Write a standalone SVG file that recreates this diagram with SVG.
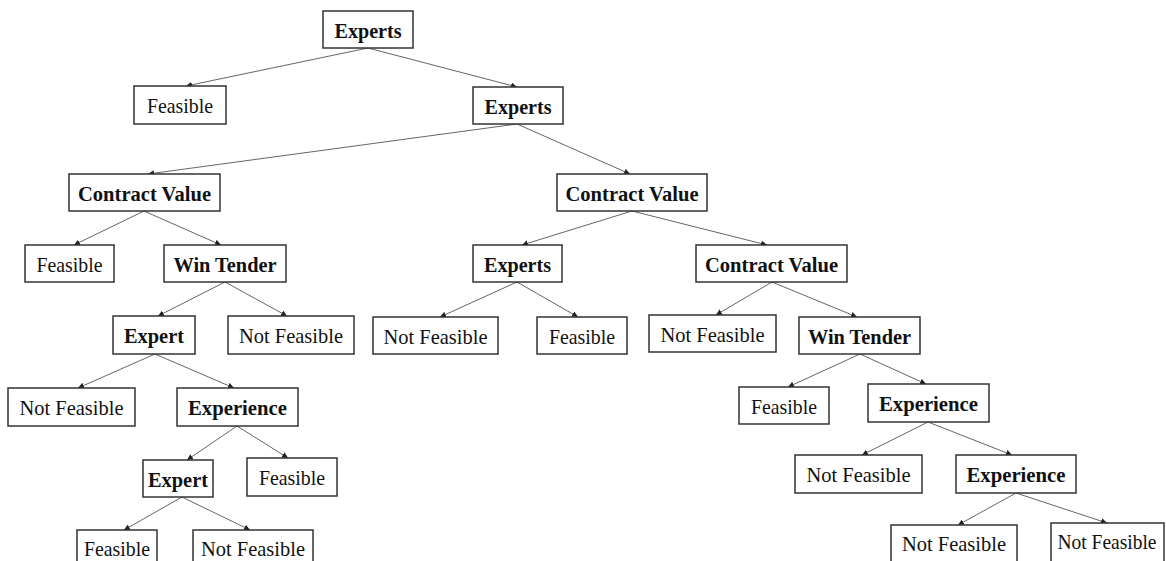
<svg xmlns="http://www.w3.org/2000/svg" width="1166" height="561" viewBox="0 0 1166 561">
<style>
.box{fill:#fff;stroke:#333;stroke-width:1.5}
.t{font-family:"Liberation Serif","Times New Roman",serif;font-size:22px;fill:#111;text-anchor:middle}
.b{font-weight:bold}
.c{stroke:#666;stroke-width:1;fill:none;marker-end:url(#ah)}
</style>
<defs>
<marker id="ah" viewBox="0 0 8 8" refX="8" refY="4" markerWidth="6" markerHeight="6" orient="auto" markerUnits="userSpaceOnUse">
<path d="M0,0 L8,4 L0,8 z" fill="#222"/>
</marker>
</defs>
<rect width="1166" height="561" fill="#fff"/>
<g id="connectors">
<line class="c" x1="368" y1="48" x2="186" y2="86"/>
<line class="c" x1="368" y1="48" x2="517" y2="87"/>
<line class="c" x1="517" y1="124" x2="148" y2="174"/>
<line class="c" x1="517" y1="124" x2="630" y2="174"/>
<line class="c" x1="144" y1="211" x2="74" y2="245"/>
<line class="c" x1="144" y1="211" x2="221" y2="245"/>
<line class="c" x1="632" y1="211" x2="522" y2="245"/>
<line class="c" x1="632" y1="211" x2="767" y2="245"/>
<line class="c" x1="225" y1="282" x2="158" y2="316"/>
<line class="c" x1="225" y1="282" x2="287" y2="316"/>
<line class="c" x1="517" y1="282" x2="440" y2="317"/>
<line class="c" x1="517" y1="282" x2="578" y2="317"/>
<line class="c" x1="772" y1="282" x2="716" y2="315"/>
<line class="c" x1="772" y1="282" x2="857" y2="317"/>
<line class="c" x1="155" y1="354" x2="78" y2="388"/>
<line class="c" x1="155" y1="354" x2="234" y2="388"/>
<line class="c" x1="860" y1="354" x2="788" y2="387"/>
<line class="c" x1="860" y1="354" x2="926" y2="384"/>
<line class="c" x1="237" y1="426" x2="187" y2="460"/>
<line class="c" x1="237" y1="426" x2="288" y2="458"/>
<line class="c" x1="928" y1="422" x2="862" y2="455"/>
<line class="c" x1="928" y1="422" x2="1012" y2="455"/>
<line class="c" x1="182" y1="497" x2="124" y2="530"/>
<line class="c" x1="182" y1="497" x2="250" y2="530"/>
<line class="c" x1="1016" y1="493" x2="958" y2="525"/>
<line class="c" x1="1016" y1="493" x2="1107" y2="523"/>
</g>
<g id="n1"><rect class="box" x="323" y="11" width="90" height="37"/><text class="t b" x="368" y="38" textLength="67" lengthAdjust="spacingAndGlyphs">Experts</text></g>
<g id="n2"><rect class="box" x="134" y="86" width="92" height="38"/><text class="t" x="180" y="113" textLength="66" lengthAdjust="spacingAndGlyphs">Feasible</text></g>
<g id="n3"><rect class="box" x="473" y="87" width="90" height="37"/><text class="t b" x="518" y="114" textLength="67" lengthAdjust="spacingAndGlyphs">Experts</text></g>
<g id="n4"><rect class="box" x="69" y="174" width="151" height="37"/><text class="t b" x="144.5" y="201" textLength="133" lengthAdjust="spacingAndGlyphs">Contract Value</text></g>
<g id="n5"><rect class="box" x="557" y="174" width="150" height="37"/><text class="t b" x="632" y="201" textLength="133" lengthAdjust="spacingAndGlyphs">Contract Value</text></g>
<g id="n6"><rect class="box" x="25" y="245" width="89" height="37"/><text class="t" x="69.5" y="272" textLength="66" lengthAdjust="spacingAndGlyphs">Feasible</text></g>
<g id="n7"><rect class="box" x="164" y="245" width="122" height="37"/><text class="t b" x="225" y="272" textLength="103" lengthAdjust="spacingAndGlyphs">Win Tender</text></g>
<g id="n8"><rect class="box" x="473" y="245" width="89" height="37"/><text class="t b" x="517.5" y="272" textLength="67" lengthAdjust="spacingAndGlyphs">Experts</text></g>
<g id="n9"><rect class="box" x="696" y="245" width="151" height="37"/><text class="t b" x="771.5" y="272" textLength="133" lengthAdjust="spacingAndGlyphs">Contract Value</text></g>
<g id="n10"><rect class="box" x="113" y="316" width="82" height="38"/><text class="t b" x="154" y="343" textLength="60" lengthAdjust="spacingAndGlyphs">Expert</text></g>
<g id="n11"><rect class="box" x="228" y="316" width="126" height="38"/><text class="t" x="291" y="343" textLength="104" lengthAdjust="spacingAndGlyphs">Not Feasible</text></g>
<g id="n12"><rect class="box" x="373" y="317" width="125" height="37"/><text class="t" x="435.5" y="344" textLength="104" lengthAdjust="spacingAndGlyphs">Not Feasible</text></g>
<g id="n13"><rect class="box" x="537" y="317" width="90" height="37"/><text class="t" x="582" y="344" textLength="66" lengthAdjust="spacingAndGlyphs">Feasible</text></g>
<g id="n14"><rect class="box" x="649" y="315" width="127" height="37"/><text class="t" x="712.5" y="342" textLength="104" lengthAdjust="spacingAndGlyphs">Not Feasible</text></g>
<g id="n15"><rect class="box" x="799" y="317" width="121" height="37"/><text class="t b" x="859.5" y="344" textLength="103" lengthAdjust="spacingAndGlyphs">Win Tender</text></g>
<g id="n16"><rect class="box" x="8" y="388" width="127" height="38"/><text class="t" x="71.5" y="415" textLength="104" lengthAdjust="spacingAndGlyphs">Not Feasible</text></g>
<g id="n17"><rect class="box" x="177" y="388" width="121" height="38"/><text class="t b" x="237.5" y="415" textLength="99" lengthAdjust="spacingAndGlyphs">Experience</text></g>
<g id="n18"><rect class="box" x="739" y="387" width="90" height="37"/><text class="t" x="784" y="414" textLength="66" lengthAdjust="spacingAndGlyphs">Feasible</text></g>
<g id="n19"><rect class="box" x="868" y="384" width="121" height="38"/><text class="t b" x="928.5" y="411" textLength="99" lengthAdjust="spacingAndGlyphs">Experience</text></g>
<g id="n20"><rect class="box" x="143" y="460" width="70" height="37"/><text class="t b" x="178" y="487" textLength="60" lengthAdjust="spacingAndGlyphs">Expert</text></g>
<g id="n21"><rect class="box" x="247" y="458" width="90" height="38"/><text class="t" x="292" y="485" textLength="66" lengthAdjust="spacingAndGlyphs">Feasible</text></g>
<g id="n22"><rect class="box" x="795" y="455" width="127" height="38"/><text class="t" x="858.5" y="482" textLength="104" lengthAdjust="spacingAndGlyphs">Not Feasible</text></g>
<g id="n23"><rect class="box" x="956" y="455" width="120" height="38"/><text class="t b" x="1016" y="482" textLength="99" lengthAdjust="spacingAndGlyphs">Experience</text></g>
<g id="n24"><rect class="box" x="77" y="530" width="80" height="40"/><text class="t" x="117" y="556" textLength="66" lengthAdjust="spacingAndGlyphs">Feasible</text></g>
<g id="n25"><rect class="box" x="193" y="530" width="120" height="40"/><text class="t" x="253" y="556" textLength="104" lengthAdjust="spacingAndGlyphs">Not Feasible</text></g>
<g id="n26"><rect class="box" x="891" y="525" width="126" height="40"/><text class="t" x="954" y="551" textLength="104" lengthAdjust="spacingAndGlyphs">Not Feasible</text></g>
<g id="n27"><rect class="box" x="1051" y="523" width="113" height="40"/><text class="t" x="1107" y="549" textLength="99" lengthAdjust="spacingAndGlyphs">Not Feasible</text></g>
</svg>
